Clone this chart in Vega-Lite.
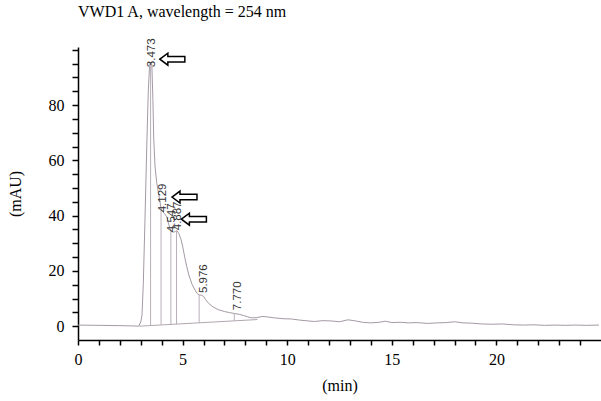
{
  "$schema": "https://vega.github.io/schema/vega-lite/v6.json",
  "width": 523,
  "height": 293,
  "autosize": "none",
  "padding": {"left": 78, "top": 47, "right": 0, "bottom": 61},
  "background": "white",
  "config": {"view": {"stroke": null}},
  "title": {"text": "VWD1 A, wavelength = 254 nm", "anchor": "start", "frame": "group", "font": "Liberation Serif", "fontSize": 16, "fontWeight": "normal", "color": "#000", "baseline": "alphabetic", "offset": 5},
  "datasets": {
    "curve": [
      {"t": 0, "v": 0.4}, {"t": 1, "v": 0.3}, {"t": 2, "v": 0.2}, {"t": 2.6, "v": 0.1}, {"t": 2.9, "v": 0.0},
      {"t": 3.0, "v": 1.5}, {"t": 3.06, "v": 4}, {"t": 3.12, "v": 15}, {"t": 3.2, "v": 38}, {"t": 3.28, "v": 63},
      {"t": 3.36, "v": 85}, {"t": 3.42, "v": 94}, {"t": 3.47, "v": 95.5}, {"t": 3.53, "v": 94.5}, {"t": 3.58, "v": 82},
      {"t": 3.62, "v": 68}, {"t": 3.68, "v": 58}, {"t": 3.76, "v": 52}, {"t": 3.84, "v": 48.5}, {"t": 3.92, "v": 45},
      {"t": 3.97, "v": 42.5}, {"t": 4.05, "v": 41.5}, {"t": 4.15, "v": 40.5}, {"t": 4.25, "v": 39.5}, {"t": 4.33, "v": 37},
      {"t": 4.4, "v": 35.2}, {"t": 4.48, "v": 34.2}, {"t": 4.58, "v": 34}, {"t": 4.66, "v": 34.3}, {"t": 4.74, "v": 34.5},
      {"t": 4.82, "v": 33.5}, {"t": 4.92, "v": 31.5}, {"t": 5.0, "v": 29}, {"t": 5.1, "v": 25}, {"t": 5.2, "v": 21.5},
      {"t": 5.3, "v": 18.5}, {"t": 5.45, "v": 15.2}, {"t": 5.6, "v": 13}, {"t": 5.7, "v": 11.8}, {"t": 5.79, "v": 11.3},
      {"t": 5.9, "v": 11.2}, {"t": 6.0, "v": 10.8}, {"t": 6.1, "v": 9.6}, {"t": 6.25, "v": 8.2}, {"t": 6.45, "v": 7},
      {"t": 6.7, "v": 6.0}, {"t": 7.0, "v": 5.3}, {"t": 7.25, "v": 4.9}, {"t": 7.47, "v": 4.6}, {"t": 7.7, "v": 4.3},
      {"t": 7.9, "v": 3.9}, {"t": 8.1, "v": 3.4}, {"t": 8.3, "v": 3.0}, {"t": 8.55, "v": 3.1}, {"t": 8.8, "v": 3.5},
      {"t": 9.0, "v": 3.4}, {"t": 9.4, "v": 3.0}, {"t": 9.8, "v": 2.7}, {"t": 10.2, "v": 2.6}, {"t": 10.6, "v": 2.2},
      {"t": 11.0, "v": 1.9}, {"t": 11.3, "v": 1.7}, {"t": 11.7, "v": 2.0}, {"t": 12.1, "v": 1.9}, {"t": 12.5, "v": 1.6},
      {"t": 12.9, "v": 2.3}, {"t": 13.2, "v": 2.0}, {"t": 13.6, "v": 1.4}, {"t": 14.0, "v": 1.2}, {"t": 14.4, "v": 1.4},
      {"t": 14.7, "v": 1.8}, {"t": 15.0, "v": 1.3}, {"t": 15.4, "v": 1.4}, {"t": 15.8, "v": 1.2}, {"t": 16.2, "v": 1.3},
      {"t": 16.7, "v": 1.0}, {"t": 17.2, "v": 1.2}, {"t": 17.6, "v": 1.3}, {"t": 18.0, "v": 1.6}, {"t": 18.4, "v": 1.2},
      {"t": 18.8, "v": 1.1}, {"t": 19.3, "v": 0.8}, {"t": 19.8, "v": 0.7}, {"t": 20.3, "v": 0.8}, {"t": 20.8, "v": 0.5},
      {"t": 21.3, "v": 0.4}, {"t": 21.8, "v": 0.5}, {"t": 22.3, "v": 0.3}, {"t": 22.8, "v": 0.4}, {"t": 23.3, "v": 0.3},
      {"t": 23.8, "v": 0.4}, {"t": 24.3, "v": 0.3}, {"t": 24.9, "v": 0.4}
    ],
    "baseline": [{"t": 2.93, "v": 0}, {"t": 8.58, "v": 2.4}],
    "peaks": [
      {"rt": "3.473", "t": 3.47, "base": 0.23, "top": 95, "lt": 3.54, "lv": 93.7},
      {"rt": "4.129", "t": 3.97, "base": 0.44, "top": 42.5, "lt": 4.08, "lv": 41.2},
      {"rt": "4.547", "t": 4.44, "base": 0.64, "top": 35, "lt": 4.49, "lv": 34},
      {"rt": "4.887", "t": 4.71, "base": 0.76, "top": 34.5, "lt": 4.8, "lv": 34.7},
      {"rt": "5.976", "t": 5.79, "base": 1.2, "top": 11.3, "lt": 6.02, "lv": 12},
      {"rt": "7.770", "t": 7.47, "base": 1.93, "top": 4.6, "lt": 7.67, "lv": 5.8}
    ],
    "arrows": [
      {"t": 4.51, "v": 96.6},
      {"t": 5.09, "v": 46.7},
      {"t": 5.54, "v": 38.7}
    ]
  },
  "layer": [
    {
      "data": {"name": "curve"},
      "mark": {"type": "line", "color": "#a49aa4", "strokeWidth": 1, "clip": true},
      "encoding": {
        "x": {"field": "t", "type": "quantitative",
          "scale": {"domain": [0, 25], "nice": false, "zero": false},
          "axis": {"title": "(min)", "values": [0,1,2,3,4,5,6,7,8,9,10,11,12,13,14,15,16,17,18,19,20,21,22,23,24],
            "labelExpr": "datum.value % 5 == 0 ? datum.label : ''", "grid": false,
            "domainColor": "#000", "domainWidth": 1.5, "tickColor": "#000", "tickWidth": 1.5, "tickSize": 5,
            "labelFont": "Liberation Serif", "labelFontSize": 16, "labelColor": "#000", "labelPadding": 6,
            "labelOverlap": false, "labelFlush": false, "labelBound": false,
            "titleFont": "Liberation Serif", "titleFontSize": 16, "titleFontWeight": "normal", "titleColor": "#000", "titlePadding": 10}},
        "y": {"field": "v", "type": "quantitative",
          "scale": {"domain": [-5, 101], "nice": false, "zero": false},
          "axis": {"title": "(mAU)", "values": [0,5,10,15,20,25,30,35,40,45,50,55,60,65,70,75,80,85,90,95,100],
            "labelExpr": "datum.value % 20 == 0 && datum.value <= 80 ? datum.label : ''", "grid": false,
            "domainColor": "#000", "domainWidth": 1.5, "tickColor": "#000", "tickWidth": 1.5, "tickSize": 6,
            "labelFont": "Liberation Serif", "labelFontSize": 16, "labelColor": "#000", "labelPadding": 8,
            "labelOverlap": false, "labelFlush": false, "labelBound": false,
            "titleFont": "Liberation Serif", "titleFontSize": 16, "titleFontWeight": "normal", "titleColor": "#000", "titlePadding": 25}}
      }
    },
    {
      "data": {"name": "baseline"},
      "mark": {"type": "line", "color": "#b0a8b0", "strokeWidth": 1},
      "encoding": {
        "x": {"field": "t", "type": "quantitative",
          "axis": {"title": "(min)", "values": [0,1,2,3,4,5,6,7,8,9,10,11,12,13,14,15,16,17,18,19,20,21,22,23,24],
            "labelExpr": "datum.value % 5 == 0 ? datum.label : ''", "grid": false,
            "domainColor": "#000", "domainWidth": 1.5, "tickColor": "#000", "tickWidth": 1.5, "tickSize": 5,
            "labelFont": "Liberation Serif", "labelFontSize": 16, "labelColor": "#000", "labelPadding": 6,
            "labelOverlap": false, "labelFlush": false, "labelBound": false,
            "titleFont": "Liberation Serif", "titleFontSize": 16, "titleFontWeight": "normal", "titleColor": "#000", "titlePadding": 10}},
        "y": {"field": "v", "type": "quantitative",
          "axis": {"title": "(mAU)", "values": [0,5,10,15,20,25,30,35,40,45,50,55,60,65,70,75,80,85,90,95,100],
            "labelExpr": "datum.value % 20 == 0 && datum.value <= 80 ? datum.label : ''", "grid": false,
            "domainColor": "#000", "domainWidth": 1.5, "tickColor": "#000", "tickWidth": 1.5, "tickSize": 6,
            "labelFont": "Liberation Serif", "labelFontSize": 16, "labelColor": "#000", "labelPadding": 8,
            "labelOverlap": false, "labelFlush": false, "labelBound": false,
            "titleFont": "Liberation Serif", "titleFontSize": 16, "titleFontWeight": "normal", "titleColor": "#000", "titlePadding": 25}}
      }
    },
    {
      "data": {"name": "peaks"},
      "mark": {"type": "rule", "color": "#b8b0b8", "strokeWidth": 1},
      "encoding": {
        "x": {"field": "t", "type": "quantitative",
          "axis": {"title": "(min)", "values": [0,1,2,3,4,5,6,7,8,9,10,11,12,13,14,15,16,17,18,19,20,21,22,23,24],
            "labelExpr": "datum.value % 5 == 0 ? datum.label : ''", "grid": false,
            "domainColor": "#000", "domainWidth": 1.5, "tickColor": "#000", "tickWidth": 1.5, "tickSize": 5,
            "labelFont": "Liberation Serif", "labelFontSize": 16, "labelColor": "#000", "labelPadding": 6,
            "labelOverlap": false, "labelFlush": false, "labelBound": false,
            "titleFont": "Liberation Serif", "titleFontSize": 16, "titleFontWeight": "normal", "titleColor": "#000", "titlePadding": 10}},
        "y": {"field": "base", "type": "quantitative",
          "axis": {"title": "(mAU)", "values": [0,5,10,15,20,25,30,35,40,45,50,55,60,65,70,75,80,85,90,95,100],
            "labelExpr": "datum.value % 20 == 0 && datum.value <= 80 ? datum.label : ''", "grid": false,
            "domainColor": "#000", "domainWidth": 1.5, "tickColor": "#000", "tickWidth": 1.5, "tickSize": 6,
            "labelFont": "Liberation Serif", "labelFontSize": 16, "labelColor": "#000", "labelPadding": 8,
            "labelOverlap": false, "labelFlush": false, "labelBound": false,
            "titleFont": "Liberation Serif", "titleFontSize": 16, "titleFontWeight": "normal", "titleColor": "#000", "titlePadding": 25}},
        "y2": {"field": "top"}
      }
    },
    {
      "data": {"name": "peaks"},
      "mark": {"type": "text", "angle": 270, "align": "left", "baseline": "middle", "font": "Liberation Sans", "fontSize": 11.5, "color": "#333"},
      "encoding": {
        "x": {"field": "lt", "type": "quantitative",
          "axis": {"title": "(min)", "values": [0,1,2,3,4,5,6,7,8,9,10,11,12,13,14,15,16,17,18,19,20,21,22,23,24],
            "labelExpr": "datum.value % 5 == 0 ? datum.label : ''", "grid": false,
            "domainColor": "#000", "domainWidth": 1.5, "tickColor": "#000", "tickWidth": 1.5, "tickSize": 5,
            "labelFont": "Liberation Serif", "labelFontSize": 16, "labelColor": "#000", "labelPadding": 6,
            "labelOverlap": false, "labelFlush": false, "labelBound": false,
            "titleFont": "Liberation Serif", "titleFontSize": 16, "titleFontWeight": "normal", "titleColor": "#000", "titlePadding": 10}},
        "y": {"field": "lv", "type": "quantitative",
          "axis": {"title": "(mAU)", "values": [0,5,10,15,20,25,30,35,40,45,50,55,60,65,70,75,80,85,90,95,100],
            "labelExpr": "datum.value % 20 == 0 && datum.value <= 80 ? datum.label : ''", "grid": false,
            "domainColor": "#000", "domainWidth": 1.5, "tickColor": "#000", "tickWidth": 1.5, "tickSize": 6,
            "labelFont": "Liberation Serif", "labelFontSize": 16, "labelColor": "#000", "labelPadding": 8,
            "labelOverlap": false, "labelFlush": false, "labelBound": false,
            "titleFont": "Liberation Serif", "titleFontSize": 16, "titleFontWeight": "normal", "titleColor": "#000", "titlePadding": 25}},
        "text": {"field": "rt"}
      }
    },
    {
      "data": {"name": "arrows"},
      "mark": {"type": "point", "shape": "M-1,0L-0.36,-0.48L-0.36,-0.22L1,-0.22L1,0.22L-0.36,0.22L-0.36,0.48Z", "size": 625, "filled": true, "fill": "white", "stroke": "#000", "strokeWidth": 1.5, "opacity": 1, "fillOpacity": 1},
      "encoding": {
        "x": {"field": "t", "type": "quantitative",
          "axis": {"title": "(min)", "values": [0,1,2,3,4,5,6,7,8,9,10,11,12,13,14,15,16,17,18,19,20,21,22,23,24],
            "labelExpr": "datum.value % 5 == 0 ? datum.label : ''", "grid": false,
            "domainColor": "#000", "domainWidth": 1.5, "tickColor": "#000", "tickWidth": 1.5, "tickSize": 5,
            "labelFont": "Liberation Serif", "labelFontSize": 16, "labelColor": "#000", "labelPadding": 6,
            "labelOverlap": false, "labelFlush": false, "labelBound": false,
            "titleFont": "Liberation Serif", "titleFontSize": 16, "titleFontWeight": "normal", "titleColor": "#000", "titlePadding": 10}},
        "y": {"field": "v", "type": "quantitative",
          "axis": {"title": "(mAU)", "values": [0,5,10,15,20,25,30,35,40,45,50,55,60,65,70,75,80,85,90,95,100],
            "labelExpr": "datum.value % 20 == 0 && datum.value <= 80 ? datum.label : ''", "grid": false,
            "domainColor": "#000", "domainWidth": 1.5, "tickColor": "#000", "tickWidth": 1.5, "tickSize": 6,
            "labelFont": "Liberation Serif", "labelFontSize": 16, "labelColor": "#000", "labelPadding": 8,
            "labelOverlap": false, "labelFlush": false, "labelBound": false,
            "titleFont": "Liberation Serif", "titleFontSize": 16, "titleFontWeight": "normal", "titleColor": "#000", "titlePadding": 25}}
      }
    }
  ]
}
